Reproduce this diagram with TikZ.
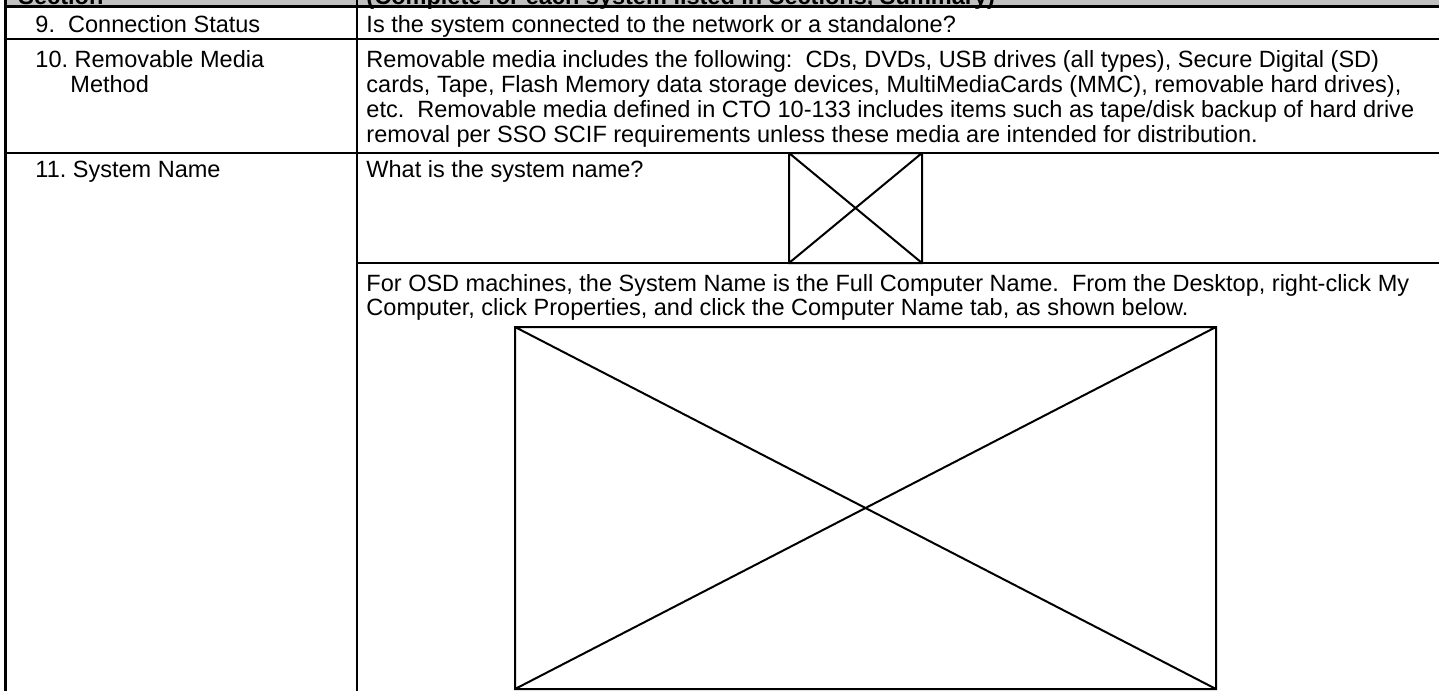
\documentclass[tikz,border=0pt]{standalone}
\usepackage{fontspec}
\setmainfont{Liberation Sans}
\frenchspacing

\begin{document}
\begin{tikzpicture}[x=0.4253pt,y=-0.4253pt,font=\fontsize{10}{12}\selectfont,
		cell/.style={anchor=base west,inner sep=0pt},
		rule/.style={line width=0.85pt},
		heavy/.style={line width=1.3pt}]
					\definecolor{headgray}{HTML}{C0C0C0}
					\useasboundingbox (0,0) rectangle (1439,690);
					\clip (0,0) rectangle (1439,690);

					% header row, cut off at the top
					\fill[headgray] (5,-30) rectangle (1439,6);
					\node[cell] (hsec) at (18,4) {\textbf{Section}};
					\node[cell] (hinfo) at (366,4) {\textbf{(Complete for each system listed in Sections, Summary)}};

					% grid
					\draw[heavy] (5,6.5) -- (1439,6.5);
					\draw[rule] (5,39) -- (1439,39);
					\draw[rule] (5,153) -- (1439,153);
					\draw[rule] (357,263) -- (1439,263);
					\draw[rule] (357,-30) -- (357,700);
					\draw[heavy] (5.5,-30) -- (5.5,700);

					% missing pictures
					\draw[rule] (789,153) rectangle (922,263) (789,153) -- (922,263) (789,263) -- (922,153);
					\draw[rule] (515,327) rectangle (1216,689) (515,327) -- (1216,689) (515,689) -- (1216,327);

					\node[cell] (n9) at (35,32) {9.\ \ Connection Status};
					\node[cell] (n10) at (35,67) {10. Removable Media};
					\node[cell] (n10b) at (70,92) {Method};
					\node[cell] (n11) at (35,177) {11. System Name};

					\node[cell] (d9) at (366,32) {Is the system connected to the network or a standalone?};
					\node[cell] (d10a) at (366,67) {Removable media includes the following:\ \ CDs, DVDs, USB drives (all types), Secure Digital (SD)};
					\node[cell] (d10b) at (366,92) {cards, Tape, Flash Memory data storage devices, MultiMediaCards (MMC), removable hard drives),};
					\node[cell] (d10c) at (366,117) {etc.\ \ Removable media defined in CTO 10-133 includes items such as tape/disk backup of hard drive};
					\node[cell] (d10d) at (366,142) {removal per SSO SCIF requirements unless these media are intended for distribution.};
					\node[cell] (d11a) at (366,177) {What is the system name?};
					\node[cell] (d11b) at (366,291) {For OSD machines, the System Name is the Full Computer Name.\ \ From the Desktop, right-click My};
					\node[cell] (d11c) at (366,315) {Computer, click Properties, and click the Computer Name tab, as shown below.};
				\end{tikzpicture}
\end{document}
